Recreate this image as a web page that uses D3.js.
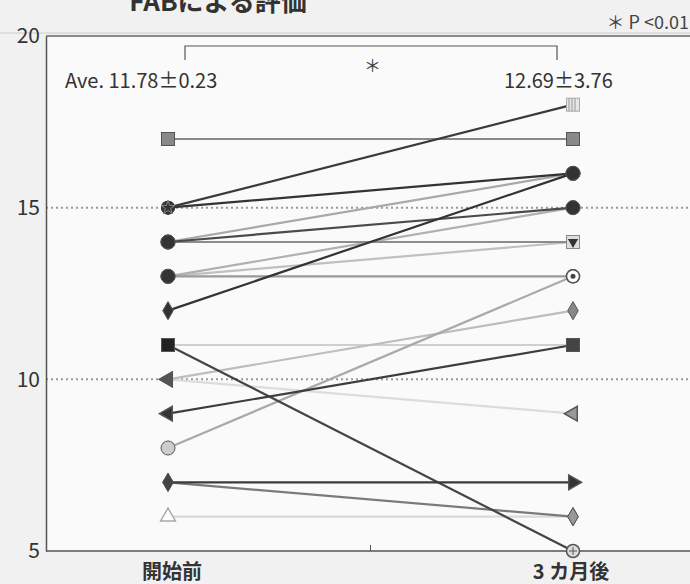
<!DOCTYPE html>
<html><head><meta charset="utf-8">
<script src="https://cdn.jsdelivr.net/npm/d3@7"></script>
<style>
html,body{margin:0;padding:0;background:#f1f1f1;}
svg{display:block;}
text{font-family:"Noto Sans CJK JP","Noto Sans",sans-serif;}
</style></head><body>
<svg id="c" width="690" height="584"></svg>
<script>
const categories = ["開始前", "3カ月後"];
const categoryLabels = ["開始前", "3 カ月後"];
const preValues  = [17, 15, 15, 14, 14, 14, 13, 13, 13, 12, 11, 11, 10, 10, 9, 8, 7, 7, 6];
const postValues = [17, 18, 16, 16, 15, 14, 15, 14, 13, 16, 11, 5, 12, 9, 11, 13, 7, 6, 6];
const yTicks = [5, 10, 15, 20];
const gridValues = [10, 15];
const meanLabels = ["Ave. 11.78\u00b10.23", "12.69\u00b13.76"];
const title = "FABによる評価";
const sigNote = "\uFF0A P <0.01";

// styles (per subject)
const lineColors = ["#8a8a8a","#3a3a3a","#333","#a8a8a8","#4a4a4a","#8c8c8c","#b0b0b0","#c0c0c0","#9a9a9a","#333","#cfcfcf","#444","#bdbdbd","#dcdcdc","#3d3d3d","#a9a9a9","#3a3a3a","#7a7a7a","#dadada"];
const startSym = ["square","star","star","circle","circle","circle","circle","circle","circle","diamond","square","square","tri-left","tri-left","tri-left","circle","diamond","diamond","tri-up-open"];
const endSym   = ["square","sq-striped","circle","circle","circle","sq-tri","circle","sq-tri","dot-circle","circle","square","cross-circle","diamond","tri-left","square","dot-circle","tri-right","diamond","diamond"];
const startFill = ["#888","#333","#333","#333","#333","#333","#333","#333","#333","#333","#222","#222","#555","#555","#333","#ccc","#444","#444","#fff"];
const endFill   = ["#888","#ccc","#333","#333","#333","#bbb","#333","#bbb","#fff","#333","#444","#bbb","#888","#999","#444","#fff","#333","#999","#999"];

const W = 690, H = 584;
const svg = d3.select("#c");
const x = d3.scalePoint().domain(categories).range([168, 573]);
const y = d3.scaleLinear().domain([5, 20]).range([551, 36]);
const axisX0 = 46;

// plot background
svg.append("rect").attr("x", axisX0).attr("y", y(20)).attr("width", W - axisX0).attr("height", y(5) - y(20)).attr("fill", "#fafafa");

// title (top of it is outside the frame, as in the source)
svg.append("text").attr("x", 218).attr("y", 11).attr("text-anchor", "middle")
  .attr("font-size", 26).attr("font-weight", "bold").attr("fill", "#333").text(title);

// top frame line
svg.append("line").attr("x1", axisX0).attr("x2", W).attr("y1", y(20)).attr("y2", y(20)).attr("stroke", "#666").attr("stroke-width", 1.5);
svg.append("line").attr("x1", 0).attr("x2", W).attr("y1", y(20) - 3).attr("y2", y(20) - 3).attr("stroke", "#ccc").attr("stroke-width", 1);

// grid dotted
svg.selectAll(".grid").data(gridValues).enter().append("line")
  .attr("x1", axisX0).attr("x2", W).attr("y1", d => y(d)).attr("y2", d => y(d))
  .attr("stroke", "#999").attr("stroke-width", 2).attr("stroke-dasharray", "2,3");

// y axis
const yAxis = d3.axisLeft(y).tickValues(yTicks).tickSize(0).tickPadding(6);
const gy = svg.append("g").attr("transform", `translate(${axisX0},0)`).call(yAxis);
gy.select(".domain").attr("stroke", "#555").attr("stroke-width", 1.5);
gy.selectAll("text").attr("font-size", 21).attr("fill", "#333").attr("font-family", "'Noto Sans', sans-serif");

// x axis
const xAxis = d3.axisBottom(x).tickSize(0).tickFormat("");
const gx = svg.append("g").attr("transform", `translate(0,${y(5)})`).call(xAxis);
gx.select(".domain").remove();
svg.append("line").attr("x1", axisX0).attr("x2", W).attr("y1", y(5)).attr("y2", y(5)).attr("stroke", "#555").attr("stroke-width", 1.5);
const midX = (x(categories[0]) + x(categories[1])) / 2;
svg.append("line").attr("x1", midX).attr("x2", midX).attr("y1", y(5)).attr("y2", y(5) - 6).attr("stroke", "#555");
svg.selectAll(".xl").data(categories).enter().append("text")
  .attr("x", (d, i) => x(d) + (i === 0 ? 4 : -2)).attr("y", 579).attr("text-anchor", "middle")
  .attr("font-size", 20).attr("font-weight", "bold").attr("fill", "#333").text((d, i) => categoryLabels[i]);

// bracket
const bY = 46;
svg.append("path").attr("d", `M${x(categories[0]) + 17},${bY + 14}V${bY}H${x(categories[1]) - 16}V${bY + 14}`)
  .attr("fill", "none").attr("stroke", "#555").attr("stroke-width", 1.2);
svg.append("text").attr("x", midX + 2).attr("y", 72).attr("text-anchor", "middle").attr("font-size", 17).attr("fill", "#444").text("\uFF0A");

// mean labels
svg.append("text").attr("x", 65).attr("y", 88).attr("font-size", 20).attr("fill", "#333").text(meanLabels[0]);
svg.append("text").attr("x", 504).attr("y", 88).attr("font-size", 20).attr("fill", "#333").text(meanLabels[1]);
svg.append("text").attr("x", 689).attr("y", 29).attr("text-anchor", "end").attr("font-size", 18).attr("fill", "#444").text(sigNote);

// lines
const subj = preValues.map((v, i) => ({ pre: v, post: postValues[i], i }));
const order = subj.slice().sort((a, b) => d3.descending(lineColors[a.i], lineColors[b.i]));
svg.selectAll(".ln").data(order).enter().append("line")
  .attr("x1", x(categories[0])).attr("x2", x(categories[1]))
  .attr("y1", d => y(d.pre)).attr("y2", d => y(d.post))
  .attr("stroke", d => lineColors[d.i]).attr("stroke-width", 2.2);

function marker(g, type, cx, cy, fill, stroke) {
  const s = 6.5;
  if (type === "square") {
    g.append("rect").attr("x", cx - s).attr("y", cy - s).attr("width", 2 * s).attr("height", 2 * s).attr("fill", fill).attr("stroke", stroke);
  } else if (type === "sq-striped") {
    g.append("rect").attr("x", cx - s).attr("y", cy - s).attr("width", 2 * s).attr("height", 2 * s).attr("fill", "#e6e6e6").attr("stroke", "#aaa");
    for (let k = -4; k <= 4; k += 3) g.append("line").attr("x1", cx + k).attr("x2", cx + k).attr("y1", cy - s).attr("y2", cy + s).attr("stroke", "#999");
  } else if (type === "sq-tri") {
    g.append("rect").attr("x", cx - s).attr("y", cy - s).attr("width", 2 * s).attr("height", 2 * s).attr("fill", "#ddd").attr("stroke", "#888");
    g.append("path").attr("d", d3.symbol(d3.symbolTriangle, 45)()).attr("transform", `translate(${cx},${cy}) rotate(180)`).attr("fill", "#333");
  } else if (type === "circle") {
    g.append("circle").attr("cx", cx).attr("cy", cy).attr("r", 7).attr("fill", fill).attr("stroke", stroke);
  } else if (type === "dot-circle") {
    g.append("circle").attr("cx", cx).attr("cy", cy).attr("r", 6.5).attr("fill", "#fff").attr("stroke", "#555").attr("stroke-width", 1.5);
    g.append("circle").attr("cx", cx).attr("cy", cy).attr("r", 2.5).attr("fill", "#444");
  } else if (type === "cross-circle") {
    g.append("circle").attr("cx", cx).attr("cy", cy).attr("r", 6.5).attr("fill", "#ddd").attr("stroke", "#555").attr("stroke-width", 1.5);
    g.append("path").attr("d", `M${cx - 4},${cy}H${cx + 4}M${cx},${cy - 4}V${cy + 4}`).attr("stroke", "#555");
  } else if (type === "star") {
    g.append("circle").attr("cx", cx).attr("cy", cy).attr("r", 7).attr("fill", fill);
    g.append("path").attr("d", d3.symbol(d3.symbolStar, 60)()).attr("transform", `translate(${cx},${cy})`).attr("fill", "none").attr("stroke", "#888");
  } else if (type === "diamond") {
    g.append("path").attr("d", d3.symbol(d3.symbolDiamond, 95)()).attr("transform", `translate(${cx},${cy})`).attr("fill", fill).attr("stroke", stroke);
  } else if (type === "tri-left" || type === "tri-right" || type === "tri-up-open") {
    const rot = type === "tri-left" ? -90 : type === "tri-right" ? 90 : 0;
    g.append("path").attr("d", d3.symbol(d3.symbolTriangle, 95)()).attr("transform", `translate(${cx},${cy}) rotate(${rot})`)
      .attr("fill", fill).attr("stroke", type === "tri-up-open" ? "#aaa" : stroke).attr("stroke-width", 1.5);
  }
}
const mg = svg.append("g");
subj.forEach(d => {
  marker(mg, startSym[d.i], x(categories[0]), y(d.pre), startFill[d.i], "#555");
  marker(mg, endSym[d.i], x(categories[1]), y(d.post), endFill[d.i], "#555");
});
</script>
</body></html>
